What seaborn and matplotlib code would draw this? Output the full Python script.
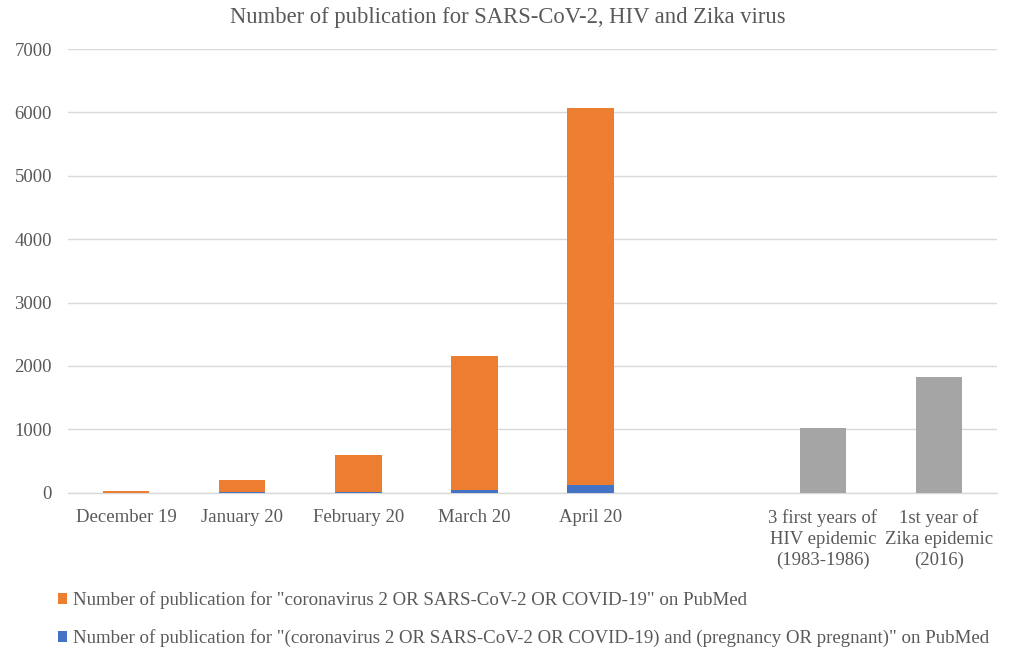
import matplotlib
matplotlib.use("Agg")
import matplotlib.pyplot as plt
from matplotlib.patches import Patch
import seaborn as sns
import pandas as pd

# Monthly PubMed counts for SARS-CoV-2 (total) and the pregnancy subset
months = ["December 19", "January 20", "February 20", "March 20", "April 20"]
covid_total = [25, 197, 594, 2149, 6070]
covid_pregnancy = [2, 4, 10, 43, 117]

# Comparison epidemics
epidemics = ["3 first years of\nHIV epidemic\n(1983-1986)",
             "1st year of\nZika epidemic\n(2016)"]
epidemic_counts = [1020, 1825]

legend_labels = [
    'Number of publication for "coronavirus 2 OR SARS-CoV-2 OR COVID-19" on PubMed',
    'Number of publication for "(coronavirus 2 OR SARS-CoV-2 OR COVID-19) and (pregnancy OR pregnant)" on PubMed',
]
title = "Number of publication for SARS-CoV-2, HIV and Zika virus"
yticks = [0, 1000, 2000, 3000, 4000, 5000, 6000, 7000]

# category order on the x axis, with an empty slot separating the two groups
order = months + [""] + epidemics

ORANGE = "#ED7D31"
BLUE = "#4472C4"
GREY = "#A5A5A5"
TICK = "#595959"

sns.set_theme(style="white")
plt.rcParams["font.family"] = ["Liberation Serif", "DejaVu Serif"]

fig = plt.figure(figsize=(10.09, 6.48), dpi=100)
ax = fig.add_axes([68 / 1009, 1 - 492.7 / 648, (997 - 68) / 1009, (492.7 - 49) / 648])

df_m = pd.DataFrame({"cat": months, "total": covid_total, "preg": covid_pregnancy})
df_e = pd.DataFrame({"cat": epidemics, "count": epidemic_counts})

bar_kw = dict(order=order, width=0.40, saturation=1, errorbar=None,
              linewidth=0, ax=ax)
# stacked look: full height in orange, pregnancy subset drawn over the base in blue
sns.barplot(data=df_m, x="cat", y="total", color=ORANGE, zorder=3, **bar_kw)
sns.barplot(data=df_m, x="cat", y="preg", color=BLUE, zorder=4, **bar_kw)
sns.barplot(data=df_e, x="cat", y="count", color=GREY, zorder=3, **bar_kw)

ax.set_xlim(-0.5, len(order) - 0.5)
ax.set_ylim(0, 7000)
ax.set_yticks(yticks)
ax.set_yticklabels([str(v) for v in yticks])
ax.set_xticks(range(len(order)))
ax.set_xticklabels(order, linespacing=1.3)
ax.set_xlabel("")
ax.set_ylabel("")

ax.grid(axis="y", color="#D9D9D9", linewidth=1.0, zorder=0)
ax.grid(axis="x", visible=False)
for s in ["top", "right", "left"]:
    ax.spines[s].set_visible(False)
ax.spines["bottom"].set_color("#D9D9D9")
ax.spines["bottom"].set_linewidth(1.0)

ax.tick_params(axis="x", length=0, pad=12, labelsize=13.5, labelcolor=TICK)
ax.tick_params(axis="y", length=0, pad=11.5, labelsize=13.5, labelcolor=TICK)

fig.text(508 / 1009, 1 - 18 / 648, title, ha="center", va="center",
         fontsize=16.3, color=TICK)

handles = [Patch(facecolor=ORANGE, edgecolor="none"),
           Patch(facecolor=BLUE, edgecolor="none")]
fig.legend(handles, legend_labels, loc="upper left",
           bbox_to_anchor=(50 / 1009, 1 - 584 / 648), frameon=False,
           fontsize=13.6, labelcolor=TICK, handlelength=0.5, handleheight=0.5,
           handletextpad=0.3, labelspacing=1.05, borderaxespad=0)

fig.savefig("out.png", dpi=100)
